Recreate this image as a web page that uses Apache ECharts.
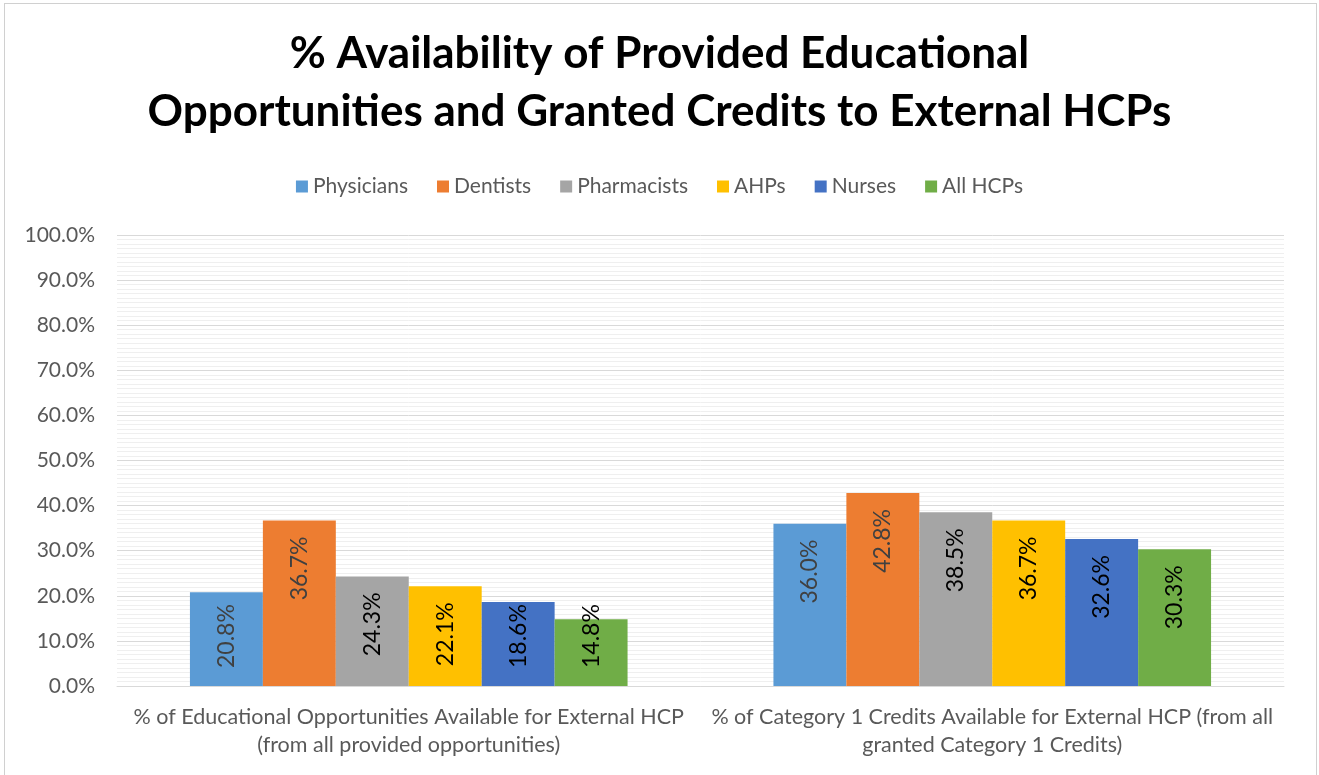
<!DOCTYPE html>
<html>
<head>
<meta charset="utf-8">
<script src="https://cdn.jsdelivr.net/npm/echarts@6/dist/echarts.min.js"></script>
<style>
  html, body { margin: 0; padding: 0; background: #fff; }
  #main { width: 1319px; height: 775px; box-sizing: border-box; }
  .frame { position: absolute; left: 4px; top: 3px; width: 1311px; height: 780px; border: 1px solid #d0d0d0; pointer-events: none; }
</style>
</head>
<body>
<div id="main"></div>
<div class="frame"></div>
<script>
// categories on the x axis (line break as in the original)
const categories = [
  '% of Educational Opportunities Available for External HCP\n(from all provided opportunities)',
  '% of Category 1 Credits Available for External HCP (from all\ngranted Category 1 Credits)'
];
const seriesNames = ['Physicians', 'Dentists', 'Pharmacists', 'AHPs', 'Nurses', 'All HCPs'];
// values in percent, one pair per group
const physicians = [20.8, 36.0];
const dentists = [36.7, 42.8];
const pharmacists = [24.3, 38.5];
const ahps = [22.1, 36.7];
const nurses = [18.6, 32.6];
const allHcps = [14.8, 30.3];

const colors = ['#5B9BD5', '#ED7D31', '#A5A5A5', '#FFC000', '#4472C4', '#70AD47'];
const labelColors = ['#404040', '#404040', '#000', '#000', '#000', '#000'];
const font = 'Lato, "Open Sans", sans-serif';

function makeSeries(name, values, i) {
  return {
    name: name,
    type: 'bar',
    barGap: 0,
    barCategoryGap: '25%',
    itemStyle: { color: colors[i] },
    data: values.map(v => {
      // short bars: label sits at the bottom, otherwise just under the top
      const low = v < 21;
      return {
        value: v,
        label: {
          show: true,
          rotate: 90,
          position: low ? 'insideBottom' : 'insideTop',
          align: low ? 'left' : 'right',
          verticalAlign: 'middle',
          distance: low ? 18 : 16,
          color: labelColors[i],
          fontSize: 23,
          fontFamily: font,
          formatter: p => p.value.toFixed(1) + '%'
        }
      };
    })
  };
}

const chart = echarts.init(document.getElementById('main'));
chart.setOption({
  animation: false,
  color: colors,
  title: {
    text: '% Availability of Provided Educational\nOpportunities and Granted Credits to External HCPs',
    left: 'center',
    top: 20,
    textStyle: { fontFamily: font, fontSize: 44, fontWeight: 'bold', color: '#000', lineHeight: 58 }
  },
  legend: {
    top: 171,
    left: 'center',
    itemWidth: 12,
    itemHeight: 12,
    itemGap: 29,
    icon: 'rect',
    textStyle: { fontFamily: font, fontSize: 21, color: '#595959' },
    data: seriesNames
  },
  grid: { left: 117, right: 35, top: 235, bottom: 89 },
  xAxis: {
    type: 'category',
    data: categories,
    axisLine: { lineStyle: { color: '#d9d9d9' } },
    axisTick: { show: false },
    axisLabel: { fontFamily: font, fontSize: 21.5, color: '#595959', lineHeight: 28, margin: 17, interval: 0 }
  },
  yAxis: {
    type: 'value',
    min: 0,
    max: 100,
    interval: 10,
    axisLine: { show: false },
    axisTick: { show: false },
    axisLabel: { fontFamily: font, fontSize: 21, color: '#595959', margin: 22, formatter: v => v.toFixed(1) + '%' },
    splitLine: { lineStyle: { color: '#d9d9d9', width: 1 } },
    minorTick: { show: false, splitNumber: 10 },
    minorSplitLine: { show: true, lineStyle: { color: '#efefef', width: 1 } }
  },
  series: [
    makeSeries(seriesNames[0], physicians, 0),
    makeSeries(seriesNames[1], dentists, 1),
    makeSeries(seriesNames[2], pharmacists, 2),
    makeSeries(seriesNames[3], ahps, 3),
    makeSeries(seriesNames[4], nurses, 4),
    makeSeries(seriesNames[5], allHcps, 5)
  ]
});
</script>
</body>
</html>
